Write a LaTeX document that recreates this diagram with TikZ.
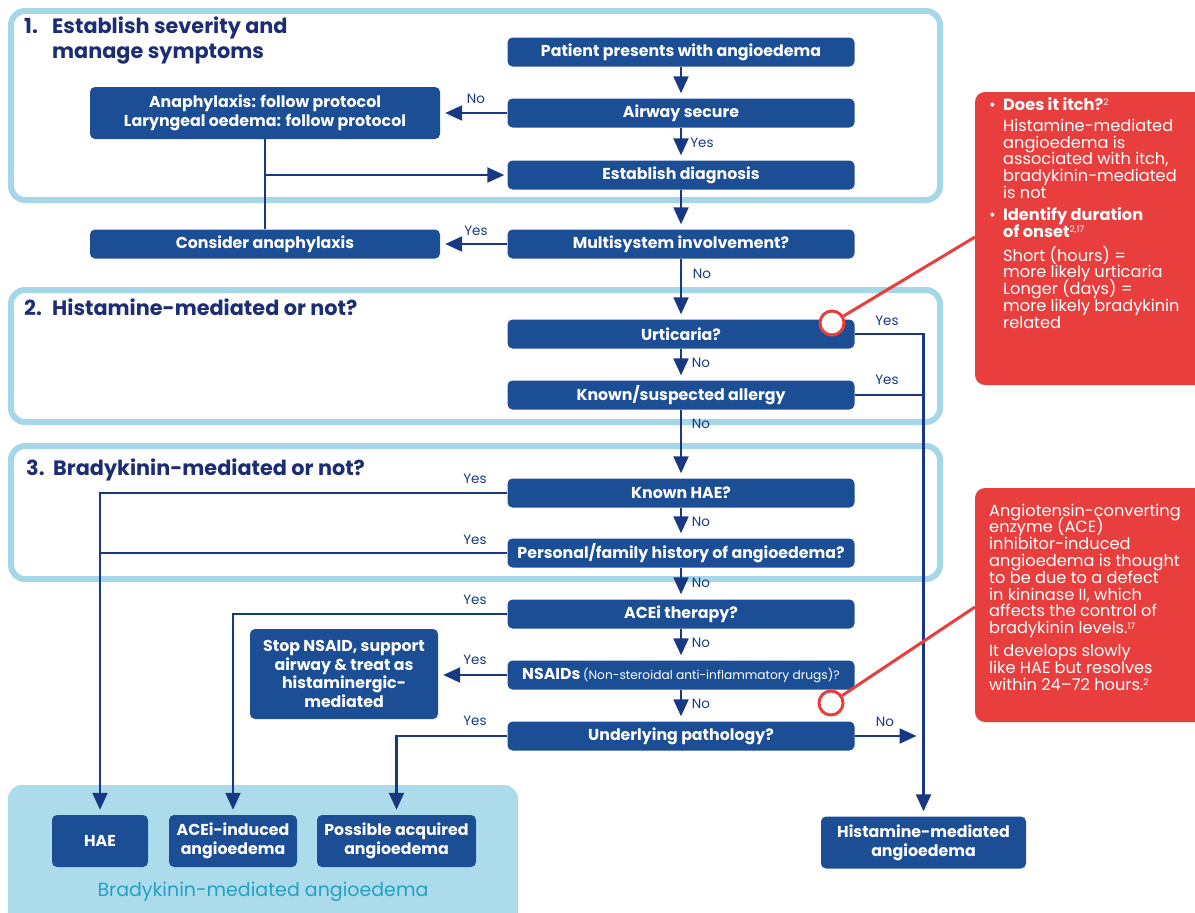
\documentclass[tikz,border=0pt]{standalone}
\usepackage{fontspec}
\setmainfont{Poppins}
\usetikzlibrary{positioning, calc, arrows.meta}
\definecolor{boxBlue}{RGB}{28, 78, 150}
\definecolor{lineNavy}{RGB}{24, 56, 132}
\definecolor{headNavy}{RGB}{28, 45, 115}
\definecolor{frameBlue}{RGB}{165, 215, 232}
\definecolor{panelBlue}{RGB}{172, 220, 236}
\definecolor{tealText}{RGB}{35, 160, 195}
\definecolor{noteRed}{RGB}{232, 62, 62}
\newcommand{\flowfont}{\fontsize{15.8}{18.7}\selectfont\bfseries}
\newcommand{\stagefont}{\fontsize{20.8}{25}\selectfont\bfseries}
\newcommand{\notefont}{\fontsize{16.2}{16.8}\selectfont\lineskiplimit=-20pt\relax}
\newcommand{\ynfont}{\fontsize{13.5}{15}\selectfont}
\newcommand{\bul}{\makebox[14pt][l]{\textbullet}}
\newcommand{\ind}{\hspace*{14pt}}
\newcommand{\citeup}[1]{\raisebox{4.5pt}{\fontsize{9}{9}\selectfont #1}}

\begin{document}
\begin{tikzpicture}[x=1pt, y=-1pt,
    flow/.style={fill=boxBlue, text=white, rounded corners=5pt, font=\flowfont,
      align=center, inner sep=2pt, minimum height=29pt},
    mainq/.style={flow, minimum width=347pt},
    outcome/.style={flow, minimum height=52pt},
    link/.style={draw=lineNavy, line width=2.2pt},
    arr/.style={link, -{Triangle[length=17pt, width=15pt]}, shorten >=5pt},
    yn/.style={text=lineNavy, font=\ynfont, inner sep=0pt},
    stage/.style={text=headNavy, font=\stagefont, inner sep=0pt, align=left},
    frame/.style={draw=frameBlue, line width=6pt, rounded corners=14pt},
    ring/.style={circle, draw=noteRed, line width=3pt, fill=white,
      minimum size=24pt, inner sep=0pt},
    pin/.style={draw=noteRed, line width=3pt},
    note/.style={text=white, font=\notefont, align=left, anchor=north west, inner sep=0pt}]
  \useasboundingbox (0,0) rectangle (1195,913);

  % stage frames
  \draw[frame] (11,11) rectangle (940,200);
  \draw[frame] (11,290) rectangle (940,422);
  \draw[frame] (11,446) rectangle (940,579);

  % panel and side notes
  \begin{scope}
    \clip (0,0) rectangle (1195,913);
    \fill[panelBlue, rounded corners=14pt] (8,785) rectangle (518,930);
    \fill[noteRed, rounded corners=10pt] (975,92) rectangle (1215,385);
    \fill[noteRed, rounded corners=10pt] (975,488) rectangle (1215,722);
  \end{scope}
  \node[text=tealText, font=\fontsize{19}{22}\selectfont] (panel) at (263,892) {Bradykinin-mediated angioedema};

  % stage headings
  \node[stage, anchor=north west] (stage1) at (24,17)
    {\makebox[28pt][l]{1.}Establish severity and\\\hspace*{28pt}manage symptoms};
  \node[stage, anchor=base west] (stage2) at (24,315) {\makebox[28pt][l]{2.}Histamine-mediated or not?};
  \node[stage, anchor=base west] (stage3) at (26,475) {\makebox[27pt][l]{3.}Bradykinin-mediated or not?};

  % main column
  \node[mainq] (patient) at (681,52) {Patient presents with angioedema};
  \node[mainq] (airway) at (681,113) {Airway secure};
  \node[mainq] (diagnosis) at (681,175) {Establish diagnosis};
  \node[mainq] (multi) at (681,244) {Multisystem involvement?};
  \node[mainq] (urtic) at (681,334) {Urticaria?};
  \node[mainq] (allergy) at (681,395) {Known/suspected allergy};
  \node[mainq] (haeq) at (681,493) {Known HAE?};
  \node[mainq] (history) at (681,553) {Personal/family history of angioedema?};
  \node[mainq] (aceiq) at (681,614) {ACEi therapy?};
  \node[mainq] (nsaid) at (681,675) {NSAIDs\,{\mdseries\fontsize{12.2}{15}\selectfont(Non-steroidal anti-inflammatory drugs)?}};
  \node[mainq] (pathology) at (681,736) {Underlying pathology?};

  % left column
  \node[flow, minimum width=350pt, minimum height=52pt] (anaph) at (265,113)
    {Anaphylaxis: follow protocol\\Laryngeal oedema: follow protocol};
  \node[flow, minimum width=350pt] (consider) at (265,244) {Consider anaphylaxis};
  \node[flow, minimum width=188pt, minimum height=90pt] (stopnsaid) at (344,674)
    {Stop NSAID, support\\airway \& treat as\\histaminergic-\\mediated};

  % outcomes
  \node[outcome, minimum width=96pt] (hae) at (100,841) {HAE};
  \node[outcome, minimum width=128pt] (aceiae) at (233,841) {ACEi-induced\\angioedema};
  \node[outcome, minimum width=159pt] (acquired) at (396.5,841) {Possible acquired\\angioedema};
  \node[outcome, minimum width=205pt] (histae) at (923.5,842.5) {Histamine-mediated\\angioedema};

  % connectors
  \foreach \a/\b in {patient/airway, airway/diagnosis, diagnosis/multi, multi/urtic,
      urtic/allergy, allergy/haeq, haeq/history, history/aceiq, aceiq/nsaid, nsaid/pathology}
    \draw[arr] (\a) -- (\b);
  \draw[arr] (airway) -- (anaph);
  \draw[arr] (multi) -- (consider);
  \draw[link] (anaph) -- (consider);
  \coordinate (join1) at (anaph.south |- diagnosis.west);
  \draw[arr, shorten >=3pt] (join1) -- (diagnosis);
  \draw[arr] (urtic.east) -| (histae.north);
  \draw[link] (allergy.east) -- (allergy.east -| histae.north);
  \draw[arr, shorten >=7pt] (pathology.east) -- (pathology.east -| histae.north);
  \draw[arr] (haeq.west) -| (hae.north);
  \draw[link] (history.west) -- (history.west -| hae.north);
  \draw[arr] (aceiq.west) -| (aceiae.north);
  \draw[arr] (nsaid.west) -- (nsaid.west -| stopnsaid.east);
  \draw[arr] (pathology.west) -| (acquired.north);

  % yes / no
  \node[yn] (no1) at (476,99) {No};
  \node[yn] (yes1) at (702,143) {Yes};
  \node[yn] (yes2) at (476,231) {Yes};
  \node[yn] (no2) at (702,274) {No};
  \node[yn] (yes3) at (887,321) {Yes};
  \node[yn] (no3) at (701,363) {No};
  \node[yn] (yes4) at (887,380) {Yes};
  \node[yn] (no4) at (701,424) {No};
  \node[yn] (yes5) at (475,479) {Yes};
  \node[yn] (no5) at (701,522) {No};
  \node[yn] (yes6) at (475,540) {Yes};
  \node[yn] (no6) at (701,583) {No};
  \node[yn] (yes7) at (475,600) {Yes};
  \node[yn] (no7) at (701,643) {No};
  \node[yn] (yes8) at (475,660) {Yes};
  \node[yn] (no8) at (701,704) {No};
  \node[yn] (yes9) at (475,721) {Yes};
  \node[yn] (no9) at (885,722) {No};

  % notes
  \node[ring] (ring1) at (832,323) {};
  \node[ring] (ring2) at (831,703) {};
  \coordinate (pin1) at (975,237);
  \coordinate (pin2) at (975,607);
  \draw[pin] (ring1) -- (pin1);
  \draw[pin] (ring2) -- (pin2);
  \node[note] (itchnote) at (989,97)
    {\bul\textbf{Does it itch?}\citeup{2}\\[4.3pt]
     \ind Histamine-mediated\\
     \ind angioedema is\\
     \ind associated with itch,\\
     \ind bradykinin-mediated\\
     \ind is not\\[5.3pt]
     \bul\textbf{Identify duration}\\
     \ind\textbf{of onset}\citeup{2,17}\\[7pt]
     \ind Short (hours) =\\
     \ind more likely urticaria\\
     \ind Longer (days) =\\
     \ind more likely bradykinin\\
     \ind related};
  \node[note] (acenote) at (989,503.5)
    {Angiotensin-converting\\
     enzyme (ACE)\\
     inhibitor-induced\\
     angioedema is thought\\
     to be due to a defect\\
     in kininase II, which\\
     affects the control of\\
     bradykinin levels.\citeup{17}\\[6pt]
     It develops slowly\\
     like HAE but resolves\\
     within 24--72 hours.\citeup{2}};
\end{tikzpicture}
\end{document}
